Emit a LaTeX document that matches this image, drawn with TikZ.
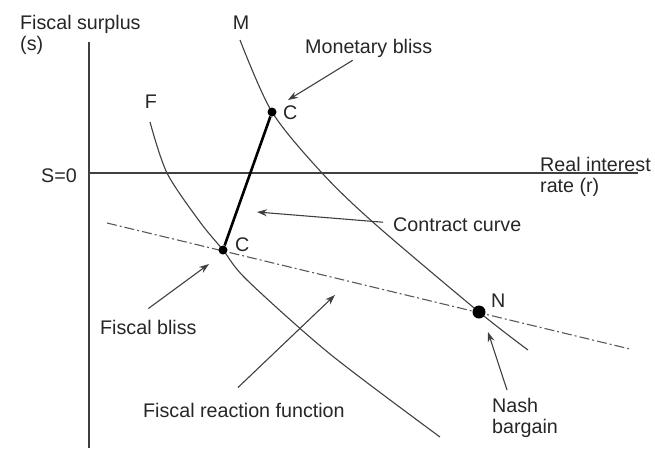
\documentclass[tikz,border=0pt]{standalone}
\usepackage{fontspec}
\setmainfont{Liberation Sans}
\usetikzlibrary{arrows.meta}

\begin{document}
\begin{tikzpicture}[
    x=1pt, y=-1pt,
    every node/.style={font=\fontsize{19.7}{21}\selectfont, text=black!85},
    lbl/.style={inner sep=0pt, anchor=base west},
    twoline/.style={inner sep=0pt, anchor=north west, align=left},
    axis/.style={draw=black!75, line width=1.1pt},
    curve/.style={draw=black!75, line width=1.1pt},
    contract/.style={draw=black, line width=2.6pt},
    dashdot/.style={draw=black!65, line width=1.1pt, dash pattern=on 10pt off 3pt on 2pt off 3pt},
    dot/.style={circle, fill=black, inner sep=0pt, minimum size=9pt},
    arrow/.style={-{Stealth[length=10pt, width=7pt]}, line width=1.1pt, draw=black!75}
  ]
    \useasboundingbox (0,0) rectangle (655,448);

    % axes
    \coordinate (ytop) at (89,42);
    \coordinate (ybot) at (89,448);
    \coordinate (orig) at (89,173);
    \coordinate (xend) at (638,173);
    \draw[axis] (ytop) -- (ybot);
    \draw[axis] (orig) -- (xend);
    \node[twoline] (ylabel) at (20,15) {Fiscal surplus\\(s)};
    \node[twoline] (xlabel) at (540,157) {Real interest\\rate (r)};
    \node[inner sep=0pt, anchor=base east] (szero) at (77,182) {S=0};

    % curves
    \draw[curve] plot[smooth] coordinates {(240,40) (272,112) (322,173) (375,224) (479,312) (528,350)};
    \draw[curve] plot[smooth] coordinates {(150,122) (167,173) (200,222) (223,250) (247,280) (330,354) (440,437)};
    \coordinate (nashl) at (107,223);
    \coordinate (nashr) at (630,349);
    \draw[dashdot] (nashl) -- (nashr);
    \node[inner sep=0pt, anchor=base] (mlabel) at (241,29) {M};
    \node[inner sep=0pt, anchor=base] (flabel) at (151,108) {F};

    % bliss points and Nash point
    \node[dot] (cm) at (272,112) {};
    \node[dot] (cf) at (223,250) {};
    \node[dot, minimum size=13pt] (nb) at (479,312) {};
    \draw[contract] (cm) -- (cf);
    \node[lbl] (cmlabel) at (283,119) {C};
    \node[lbl] (cflabel) at (235,251) {C};
    \node[lbl] (nlabel) at (491,307) {N};

    % annotations
    \node[lbl] (mblabel) at (305,53) {Monetary bliss};
    \node[lbl] (cclabel) at (393,231) {Contract curve};
    \node[lbl] (fblabel) at (100,334) {Fiscal bliss};
    \node[lbl] (frlabel) at (143,417) {Fiscal reaction function};
    \node[twoline] (nblabel) at (492,398) {Nash\\bargain};
    \coordinate (mbtip) at (288,100);
    \coordinate (cctip) at (257,212);
    \coordinate (fbtip) at (209,264);
    \coordinate (frtip) at (335,295);
    \coordinate (nbtip) at (488,332);
    \draw[arrow] ([xshift=-16pt, yshift=-3pt]mblabel.south) -- (mbtip);
    \draw[arrow] ([xshift=-10pt, yshift=2pt]cclabel.west) -- (cctip);
    \draw[arrow] ([yshift=11pt]fblabel.north) -- (fbtip);
    \draw[arrow] ([xshift=-6pt, yshift=15pt]frlabel.north) -- (frtip);
    \draw[arrow] ([xshift=15pt, yshift=8pt]nblabel.north west) -- (nbtip);
  \end{tikzpicture}
\end{document}
